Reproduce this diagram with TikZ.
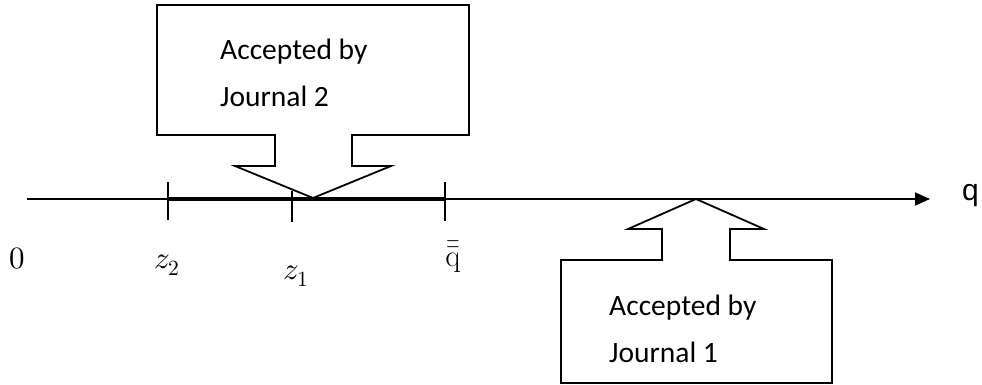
\documentclass[tikz,border=0pt]{standalone}
\usepackage{fontspec}
\usepackage{unicode-math}
\setmathfont{Latin Modern Math}
\newfontfamily\calib{Carlito}
\newfontfamily\arialf{Liberation Sans}
\usetikzlibrary{arrows.meta}
\begin{document}
\begin{tikzpicture}[x=1pt,y=-1pt,
  callout/.style={draw=black,line width=1.8pt,line join=miter},
  ctext/.style={anchor=base west,inner sep=0pt,font=\calib\fontsize{29.5}{33}\selectfont},
  mlabel/.style={anchor=base,inner sep=0pt,font=\fontsize{31}{34}\selectfont},
  axisline/.style={line width=1.8pt},
  tick/.style={line width=1.8pt}]
\useasboundingbox (0,0) rectangle (982,385);
% axis
\coordinate (a0) at (27,199);
\coordinate (aend) at (930,199);
\draw[axisline,-{Triangle[length=15pt,width=13pt]}] (a0) -- (aend);
\node[anchor=base west,inner sep=0pt,font=\arialf\fontsize{30}{33}\selectfont] (qlab) at (962,200) {q};
% thick segment
\coordinate (z2) at (168,199);
\coordinate (qb) at (445,199);
\coordinate (z1) at (292,199);
\draw[line width=3.5pt] (z2) -- (qb);
\draw[tick] (168,182) -- (168,220);
\draw[tick] (292,191) -- (292,222);
\draw[tick] (445,182) -- (445,221);
% labels
\node[mlabel] (l0) at (17,268) {$0$};
\node[mlabel] (lz2) at (167,268) {$z_2$};
\node[mlabel] (lz1) at (296,279) {$z_1$};
\node[mlabel] (lqb) at (453,266) {$\bar{\bar{\mathrm{q}}}$};
% top callout
\draw[callout,fill=white] (157,5) -- (469,5) -- (469,135) -- (352,135) -- (352,166) -- (391,166) -- (313,198) -- (235,166) -- (275,166) -- (275,135) -- (157,135) -- cycle;
\node[ctext] (t1) at (220,60) {Accepted by};
\node[ctext] (t2) at (220,107) {Journal 2};
% bottom callout
\draw[callout,fill=white] (561,260) -- (662,260) -- (662,229) -- (628,229) -- (696,199) -- (764,229) -- (730,229) -- (730,260) -- (832,260) -- (832,383) -- (561,383) -- cycle;
\node[ctext] (b1) at (609,315) {Accepted by};
\node[ctext] (b2) at (609,362) {Journal 1};
\end{tikzpicture}
\end{document}
